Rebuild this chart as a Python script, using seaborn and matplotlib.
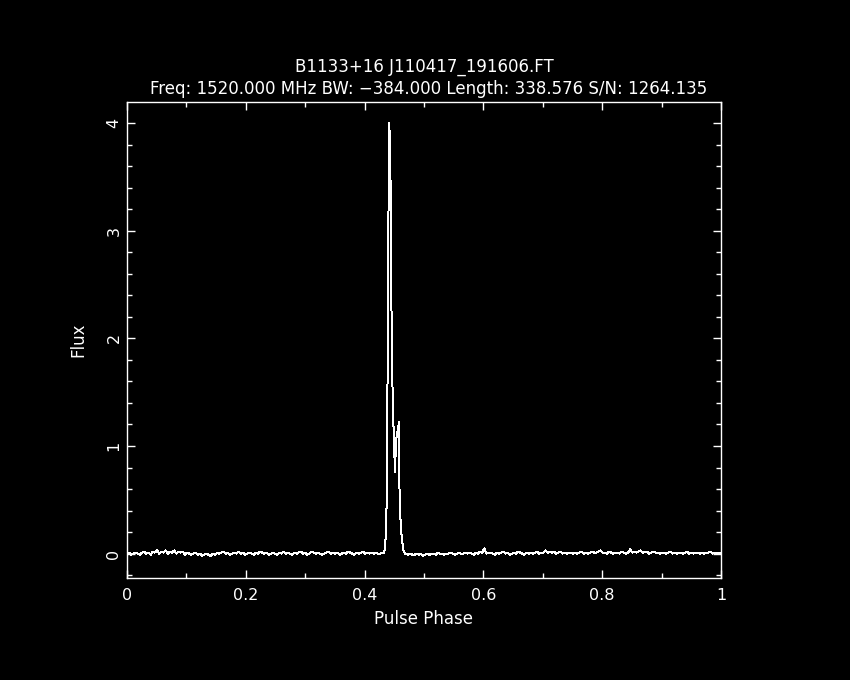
import numpy as np
import pandas as pd
import seaborn as sns
import matplotlib.pyplot as plt

# baseline off-pulse, left of the pulse (phase 0 .. 0.43)
base_left = [
    0.00, 0.01, -0.01, 0.00, 0.01, 0.00, -0.01, 0.01, 0.02, 0.00, 0.01, -0.01, 0.02, 0.01, 0.03, 0.00, 0.02, 0.01, 0.03, 0.00,
    0.02, 0.01, 0.03, 0.00, 0.02, 0.01, 0.02, -0.01, 0.01, 0.00, -0.01, 0.00, 0.01, -0.01, 0.00, -0.02, -0.01, 0.00, -0.01, -0.02,
    0.00, -0.01, 0.01, 0.00, 0.01, 0.02, 0.00, 0.01, -0.01, 0.00, 0.01, 0.00, 0.02, 0.00, 0.01, -0.01, 0.00, 0.01, 0.00, -0.01,
    0.01, 0.00, 0.02, 0.01, 0.00, 0.01, -0.01, 0.00, 0.01, 0.00, -0.01, 0.01, 0.00, 0.02, 0.00, 0.01, 0.00, -0.01, 0.01, 0.00,
    0.01, 0.02, 0.00, 0.01, -0.01, 0.00, 0.02, 0.01, 0.00, 0.01, 0.00, -0.01, 0.00, 0.01, 0.02, 0.00, 0.01, 0.00, 0.01, -0.01,
    0.00, 0.01, 0.00, 0.02, 0.01, 0.00, -0.01, 0.01, 0.00, 0.01, 0.02, 0.00, 0.01, 0.00, 0.01, 0.00, 0.01, 0.00, 0.00, 0.01,
]

# on-pulse samples
pulse_phase = [0.4327, 0.4347, 0.4360, 0.4374, 0.4384, 0.4401, 0.4411, 0.4428, 0.4444, 0.4456,
               0.4475, 0.4492, 0.4512, 0.4529, 0.4554, 0.4579, 0.4589, 0.4613, 0.4652, 0.4680]
pulse_flux = [0.01, 0.06, 0.25, 0.52, 1.43, 3.15, 4.00, 3.86, 3.09, 1.96,
              1.39, 1.08, 0.76, 1.06, 1.13, 1.22, 0.50, 0.22, 0.03, 0.00]

# baseline right of the pulse (phase 0.47 .. 1)
base_right = [
    0.00, -0.01, 0.00, -0.01, -0.01, 0.00, -0.01, 0.00, -0.02, -0.01, 0.00, -0.01, 0.00, 0.00, -0.01, 0.01, 0.00, 0.00, -0.01, 0.00,
    0.00, 0.01, 0.00, -0.01, 0.00, 0.01, 0.00, 0.00, 0.01, 0.00, 0.01, 0.00, -0.01, 0.01, 0.00, 0.02, 0.01, 0.05, 0.00, 0.01,
    0.01, 0.00, -0.01, 0.01, 0.00, 0.01, 0.02, 0.00, 0.01, -0.01, 0.00, 0.01, 0.00, 0.02, 0.01, 0.00, -0.01, 0.01, 0.00, 0.01,
    0.00, 0.01, 0.02, 0.00, 0.01, 0.01, 0.03, 0.01, 0.02, 0.01, 0.02, 0.00, 0.01, 0.02, 0.00, 0.01, 0.00, 0.01, 0.01, 0.00,
    0.01, 0.00, 0.01, 0.02, 0.00, 0.01, 0.00, 0.01, 0.02, 0.01, 0.01, 0.02, 0.03, 0.01, 0.01, 0.00, 0.02, 0.01, 0.00, 0.01,
    0.01, 0.00, 0.02, 0.01, 0.00, 0.01, 0.04, 0.01, 0.02, 0.01, 0.02, 0.03, 0.01, 0.02, 0.02, 0.00, 0.01, 0.02, 0.01, 0.01,
    0.00, 0.01, 0.01, 0.00, 0.01, 0.02, 0.00, 0.01, 0.00, 0.01, 0.01, 0.00, 0.01, 0.02, 0.00, 0.01, 0.00, 0.01, 0.01, 0.00,
    0.01, 0.00, 0.01, 0.01, 0.02, 0.00, 0.01, 0.01, 0.00, 0.01,
]

title1 = "B1133+16 J110417_191606.FT"
title2 = "Freq: 1520.000 MHz BW: \u2212384.000 Length: 338.576 S/N: 1264.135"
xticks = [0, 0.2, 0.4, 0.6, 0.8, 1]
xtick_labels = ["0", "0.2", "0.4", "0.6", "0.8", "1"]
yticks = [0, 1, 2, 3, 4]
ytick_labels = ["0", "1", "2", "3", "4"]


def main():
    phase = np.concatenate([np.linspace(0, 0.43, len(base_left)), pulse_phase,
                            np.linspace(0.47, 1.0, len(base_right))])
    flux = np.concatenate([base_left, pulse_flux, base_right])
    df = pd.DataFrame({"phase": phase, "flux": flux})

    sns.set_theme(style="ticks")
    plt.rcParams.update({
        "figure.facecolor": "black", "axes.facecolor": "black",
        "axes.edgecolor": "white", "text.color": "white",
        "xtick.color": "white", "ytick.color": "white",
        "axes.labelcolor": "white",
    })
    plt.rcParams["font.family"] = ["DejaVu Sans"]

    fig = plt.figure(figsize=(8.5, 6.8), dpi=100)
    ax = fig.add_axes([127 / 850, 102 / 680, 594 / 850, 476 / 680])

    sns.lineplot(data=df, x="phase", y="flux", ax=ax, color="white",
                 linewidth=0.72, estimator=None, sort=False, antialiased=False)

    ax.set_xlim(0, 1)
    ax.set_ylim(-0.226, 4.195)
    ax.set_xticks(xticks)
    ax.set_xticklabels(xtick_labels)
    ax.set_xticks(np.arange(0, 1.01, 0.1), minor=True)
    ax.set_yticks(yticks)
    ax.set_yticklabels(ytick_labels, rotation=90, va="center")
    ax.set_yticks(np.arange(-0.2, 4.2, 0.2), minor=True)

    for s in ax.spines.values():
        s.set_color("white")
        s.set_linewidth(1.0)
    ax.tick_params(which="both", direction="in", top=True, right=True,
                   colors="white", width=1.0, labelsize=11.5)
    ax.tick_params(which="major", length=6)
    ax.tick_params(axis="x", which="major", pad=7)
    ax.tick_params(axis="y", which="major", pad=4)
    ax.tick_params(which="minor", length=3.5)

    ax.set_xlabel("Pulse Phase", fontsize=12, labelpad=5)
    ax.set_ylabel("Flux", fontsize=12, labelpad=14)

    fig.text(424 / 850, 1 - 67 / 680, title1, ha="center", va="center", fontsize=12)
    fig.text(429 / 850, 1 - 89 / 680, title2, ha="center", va="center", fontsize=12)

    fig.savefig("out.png", dpi=100, facecolor="black")


if __name__ == "__main__":
    main()
